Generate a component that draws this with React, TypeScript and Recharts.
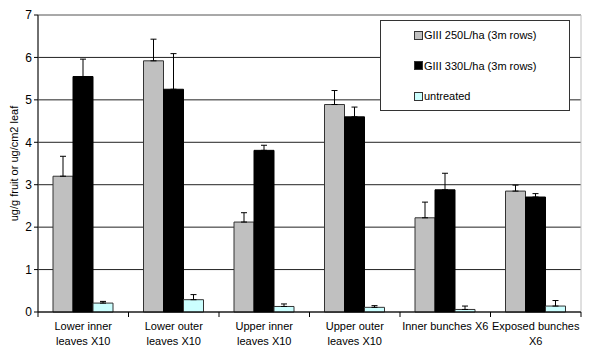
import { BarChart, Bar, XAxis, YAxis, CartesianGrid, ErrorBar, ReferenceArea } from 'recharts';

const categories = [
  'Lower inner\nleaves X10',
  'Lower outer\nleaves X10',
  'Upper inner\nleaves X10',
  'Upper outer\nleaves X10',
  'Inner bunches X6',
  'Exposed bunches\nX6',
];
const g250 = [3.2, 5.92, 2.12, 4.89, 2.22, 2.85];
const g250Err = [0.47, 0.51, 0.22, 0.33, 0.37, 0.14];
const g330 = [5.55, 5.25, 3.81, 4.6, 2.88, 2.71];
const g330Err = [0.41, 0.84, 0.12, 0.23, 0.39, 0.08];
const untreated = [0.21, 0.29, 0.13, 0.11, 0.06, 0.14];
const untreatedErr = [0.04, 0.12, 0.06, 0.04, 0.08, 0.13];
const yTicks = [0, 1, 2, 3, 4, 5, 6, 7];

const data = categories.map((name, i) => ({
  name,
  g250: g250[i],
  g250e: [0, g250Err[i]],
  g330: g330[i],
  g330e: [0, g330Err[i]],
  untreated: untreated[i],
  untreatede: [0, untreatedErr[i]],
}));

const series = [
  { key: 'g250', name: 'GIII 250L/ha (3m rows)', fill: '#c0c0c0', stroke: '#333' },
  { key: 'g330', name: 'GIII 330L/ha (3m rows)', fill: '#000000', stroke: '#000' },
  { key: 'untreated', name: 'untreated', fill: '#ccffff', stroke: '#333' },
];

const font = '"Liberation Sans", Arial, sans-serif';
const bandWidth = (581 - 38) / categories.length;

function CategoryTick(props: any) {
  const { x, y, payload, index } = props;
  const lines = String(payload.value).split('\n');
  const left = x - bandWidth / 2;
  return (
    <g>
      <line x1={left} y1={y - 8} x2={left} y2={y - 3} stroke="#000" />
      {index === categories.length - 1 && (
        <line x1={x + bandWidth / 2} y1={y - 8} x2={x + bandWidth / 2} y2={y - 3} stroke="#000" />
      )}
      <text x={x} y={y + 10} textAnchor="middle" fontSize={11} fill="#000" fontFamily={font}>
        {lines.map((l, i) => (
          <tspan key={i} x={x} dy={i === 0 ? 0 : 15}>{l}</tspan>
        ))}
      </text>
    </g>
  );
}

function LegendBox() {
  return (
    <div style={{ position: 'absolute', left: 380, top: 20, border: '1px solid #333', background: '#fff', width: 188, height: 89, fontFamily: font, fontSize: 11 }}>
      {series.map((s, i) => (
        <div key={s.key} style={{ position: 'absolute', left: 33, top: 8 + i * 30.5, display: 'flex', alignItems: 'center', color: '#000', whiteSpace: 'nowrap' }}>
          <span style={{ display: 'inline-block', width: 7, height: 7, background: s.fill, border: '1px solid #333', marginRight: 1 }} />
          <span>{s.name}</span>
        </div>
      ))}
    </div>
  );
}

export default function App() {
  return (
    <div style={{ position: 'absolute', left: 0, top: 0, width: 600, height: 356, background: '#fff', fontFamily: font }}>
      <BarChart
        width={600}
        height={356}
        data={data}
        margin={{ top: 15, right: 19, left: 0, bottom: 0 }}
        barSize={20}
        barGap={0}
      >
        <CartesianGrid vertical={false} stroke="#222" />
        <ReferenceArea y1={0} y2={7} fill="none" stroke="#c0c0c0" ifOverflow="visible" />
        <XAxis
          dataKey="name"
          axisLine={{ stroke: '#000' }}
          tickLine={false}
          interval={0}
          tick={<CategoryTick />}
          height={44}
        />
        <YAxis
          domain={[0, 7]}
          ticks={yTicks}
          width={38}
          axisLine={{ stroke: '#000' }}
          tickLine={{ stroke: '#000' }}
          tickSize={4}
          tick={{ fontSize: 12, fill: '#000', fontFamily: font }}
          label={{ value: 'ug/g fruit or ug/cm2 leaf', angle: -90, position: 'insideLeft', offset: 14, style: { fontSize: 11, fill: '#000', fontFamily: font, textAnchor: 'middle' } }}
        />
        {series.map((s) => (
          <Bar key={s.key} dataKey={s.key} name={s.name} fill={s.fill} stroke={s.stroke} strokeWidth={1} isAnimationActive={false}>
            <ErrorBar dataKey={`${s.key}e`} width={3} stroke="#000" strokeWidth={1} direction="y" />
          </Bar>
        ))}
      </BarChart>
      <LegendBox />
    </div>
  );
}
